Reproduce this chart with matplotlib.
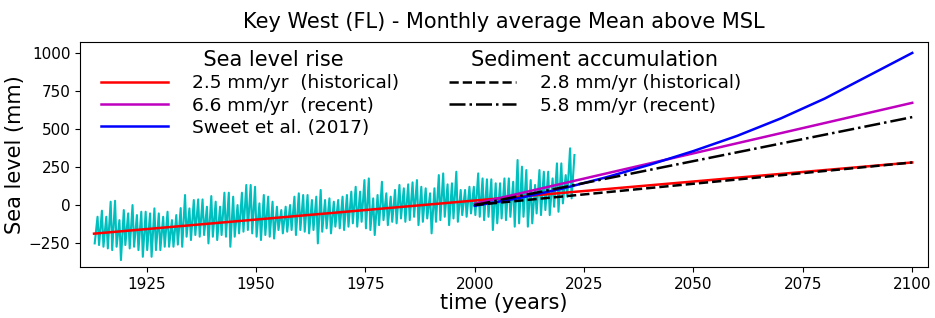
import matplotlib
matplotlib.use("Agg")
import matplotlib.pyplot as plt
import numpy as np

# ---- observed monthly sea level (approximated by yearly seasonal high / low) ----
years = list(range(1913, 2023))
yearly_high = [-77, -37, -77, 22, 28, -99, -33, -55, 0, -66,
               -44, -44, -55, -22, -55, -77, -44, -99, -66, -20,
               66, -22, 33, 37, 37, -11, 59, 22, -11, 81,
               81, 55, 0, 81, 132, 132, 120, 11, 66, 55,
               22, -11, -33, -11, 0, 55, 77, 66, 66, 33,
               55, 99, 33, 44, 22, 33, 55, 66, 88, 120,
               88, 164, 175, 44, 66, 153, 77, 55, 99, 132,
               110, 136, 149, 164, 120, 110, 77, 110, 197, 208,
               136, 143, 219, 99, 99, 120, 120, 208, 175, 169,
               169, 143, 143, 175, 175, 153, 296, 252, 230, 164,
               132, 230, 219, 219, 175, 274, 274, 197, 373, 329]
yearly_low = [-252, -263, -274, -285, -296, -274, -362, -263, -285, -274,
              -296, -340, -296, -340, -296, -296, -274, -274, -274, -260,
              -274, -208, -230, -197, -208, -197, -252, -208, -230, -197,
              -208, -274, -208, -186, -175, -164, -186, -208, -230, -197,
              -208, -220, -164, -186, -175, -164, -197, -164, -175, -186,
              -164, -252, -175, -153, -186, -142, -153, -164, -142, -120,
              -142, -110, -153, -164, -197, -132, -99, -132, -110, -120,
              -88, -110, -99, -77, -132, -110, -88, -186, -110, -99,
              -77, -132, -88, -110, -66, -77, -55, -66, -77, -99,
              -77, -164, -120, -88, -99, -77, -142, -120, -77, -142,
              -120, -55, -66, -33, -66, -11, -44, 11, 55, 44]

# ---- trend / projection lines ----
hist_years = [1913, 2100]
hist_vals = [-188, 280]          # 2.5 mm/yr (historical)
recent_years = [2000, 2100]
recent_vals = [8, 672]           # 6.6 mm/yr (recent)
sweet_years = [2000, 2010, 2020, 2030, 2040, 2050, 2060, 2070, 2080, 2090, 2100]
sweet_vals = [-5, 45, 108, 182, 265, 355, 455, 570, 700, 850, 1000]
sed_hist_years = [2000, 2100]
sed_hist_vals = [0, 280]         # 2.8 mm/yr
sed_recent_years = [2000, 2100]
sed_recent_vals = [0, 578]       # 5.8 mm/yr

# build the zig-zag time series (trough early in the year, peak in autumn)
t = []
v = []
for yr, lo, hi in zip(years, yearly_low, yearly_high):
    t += [yr + 0.15, yr + 0.8]
    v += [lo, hi]

fig = plt.figure(figsize=(9.35, 3.18), dpi=100)
ax = fig.add_axes([0.0856, 0.160, 0.9069, 0.708])

ax.plot(t, v, color='c', lw=1.5)
l_red, = ax.plot(hist_years, hist_vals, color='r', lw=1.8)
l_mag, = ax.plot(recent_years, recent_vals, color='m', lw=1.8)
l_blue, = ax.plot(sweet_years, sweet_vals, color='b', lw=1.8)
l_dash, = ax.plot(sed_hist_years, sed_hist_vals, color='k', lw=1.8, ls='--')
l_dd, = ax.plot(sed_recent_years, sed_recent_vals, color='k', lw=1.8, ls='-.')

ax.set_xlim(1909.8, 2103.6)
ax.set_ylim(-408, 1072)
ax.set_xticks([1925, 1950, 1975, 2000, 2025, 2050, 2075, 2100])
ax.set_yticks([-250, 0, 250, 500, 750, 1000])
ax.tick_params(labelsize=11)
ax.set_xlabel('time (years)', fontsize=15, labelpad=1)
ax.set_ylabel('Sea level (mm)', fontsize=15, labelpad=3)
ax.set_title('Key West (FL) - Monthly average Mean above MSL', fontsize=15, pad=10)

leg_kw = dict(frameon=False, fontsize=13.3, title_fontsize=15,
              handlelength=3.6, handletextpad=1.3, labelspacing=0.22, borderpad=0.2)
leg1 = ax.legend([l_red, l_mag, l_blue],
                 ['2.5 mm/yr  (historical)', '6.6 mm/yr  (recent)', 'Sweet et al. (2017)'],
                 title='       Sea level rise', loc='upper left', bbox_to_anchor=(0.010, 1.02),
                 **leg_kw)
ax.add_artist(leg1)
leg2 = ax.legend([l_dash, l_dd],
                 ['2.8 mm/yr (historical)', '5.8 mm/yr (recent)'],
                 title='Sediment accumulation', loc='upper left', bbox_to_anchor=(0.42, 1.02),
                 **leg_kw)

fig.savefig('out.png', dpi=100)
